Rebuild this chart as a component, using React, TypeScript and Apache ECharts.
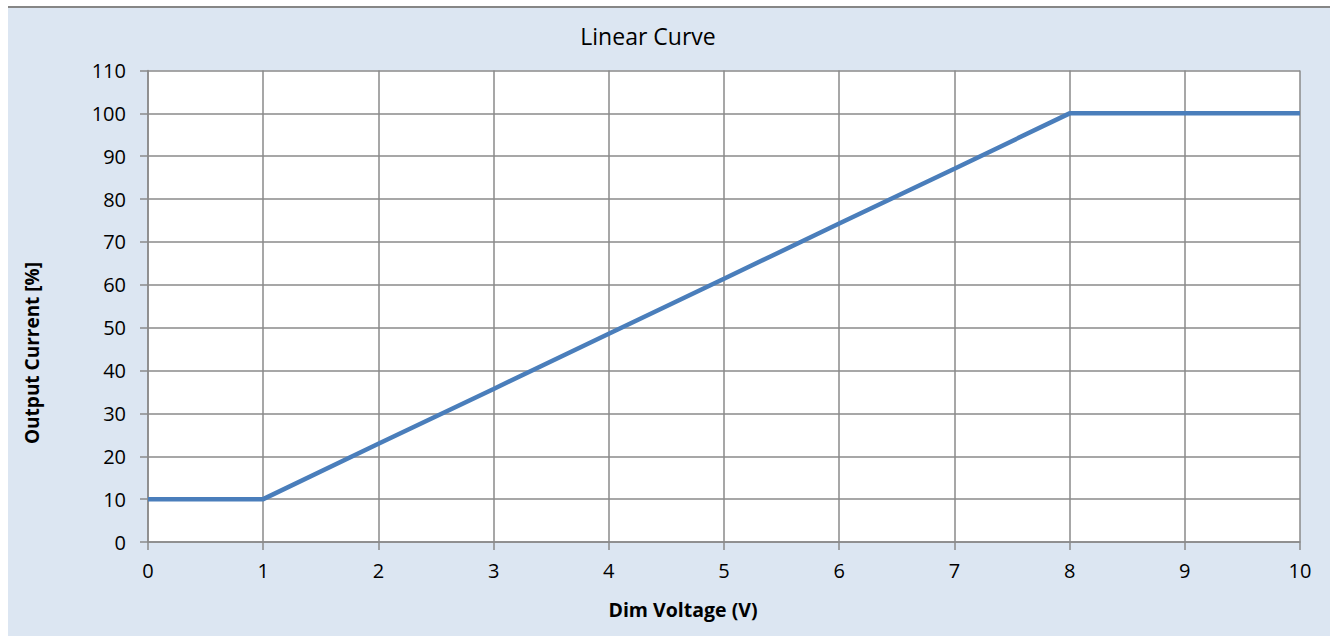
import React, { useEffect, useRef } from "react";
import * as echarts from "echarts";

const voltages = [0, 1, 2, 3, 4, 5, 6, 7, 8, 9, 10];
const outputCurrent = [10, 10, 22.9, 35.7, 48.6, 61.4, 74.3, 87.1, 100, 100, 100];
const chartTitle = "Linear Curve";
const xAxisName = "Dim Voltage (V)";
const yAxisName = "Output Current [%]";

const FONT = "'Open Sans', 'Noto Sans', sans-serif";
const GRID_COLOR = "#8a8a8a";

export default function App() {
  const ref = useRef<HTMLDivElement>(null);
  useEffect(() => {
    if (!ref.current) return;
    const chart = echarts.init(ref.current, undefined, { renderer: "svg" });
    chart.setOption({
      animation: false,
      backgroundColor: "#dce6f2",
      textStyle: { fontFamily: FONT },
      grid: {
        left: 140,
        right: 30,
        top: 62.5,
        bottom: 94,
        show: true,
        backgroundColor: "#ffffff",
        borderWidth: 0,
      },
      graphic: [
        {
          type: "text",
          x: 640,
          y: 28,
          style: {
            text: chartTitle,
            font: `23px ${FONT}`,
            fill: "#000",
            align: "center",
            verticalAlign: "middle",
          },
        },
        {
          type: "text",
          x: 675,
          y: 601,
          style: {
            text: xAxisName,
            font: `bold 19.5px ${FONT}`,
            fill: "#000",
            align: "center",
            verticalAlign: "middle",
          },
        },
        {
          type: "text",
          x: 24,
          y: 345,
          rotation: Math.PI / 2,
          style: {
            text: yAxisName,
            font: `bold 19px ${FONT}`,
            fill: "#000",
            align: "center",
            verticalAlign: "middle",
          },
        },
      ],
      xAxis: {
        type: "value",
        min: 0,
        max: 10,
        interval: 1,
        axisLine: { show: true, lineStyle: { color: GRID_COLOR, width: 1.5 } },
        axisTick: { show: true, inside: false, length: 8, lineStyle: { color: GRID_COLOR, width: 1.5 } },
        axisLabel: { color: "#000", fontSize: 20, margin: 18, fontFamily: FONT },
        splitLine: { show: true, lineStyle: { color: GRID_COLOR, width: 1.5 } },
      },
      yAxis: {
        type: "value",
        min: 0,
        max: 110,
        interval: 10,
        axisLine: { show: true, lineStyle: { color: GRID_COLOR, width: 1.5 } },
        axisTick: { show: true, inside: false, length: 8, lineStyle: { color: GRID_COLOR, width: 1.5 } },
        axisLabel: { color: "#000", fontSize: 20, margin: 22, fontFamily: FONT },
        splitLine: { show: true, lineStyle: { color: GRID_COLOR, width: 1.5 } },
      },
      series: [
        {
          type: "line",
          data: voltages.map((v, i) => [v, outputCurrent[i]]),
          showSymbol: false,
          symbol: "none",
          lineStyle: { color: "#4a7ebb", width: 4.5 },
        },
      ],
    });
    return () => chart.dispose();
  }, []);
  return (
    <>
      <div
        style={{ position: "absolute", left: 8, top: 6, width: 1322, height: 2, background: "#868686" }}
      />
      <div
        ref={ref}
        style={{ position: "absolute", left: 8, top: 8, width: 1322, height: 628 }}
      />
    </>
  );
}
